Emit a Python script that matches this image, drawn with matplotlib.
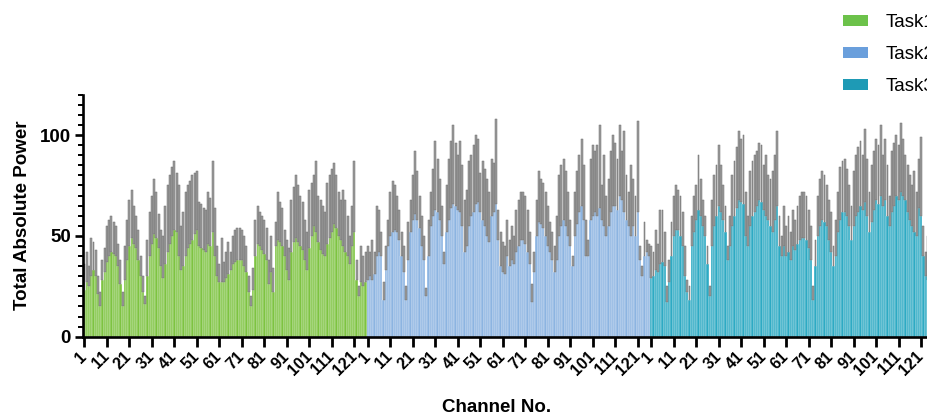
import numpy as np
import matplotlib
matplotlib.use('Agg')
import matplotlib.pyplot as plt
from matplotlib.ticker import MultipleLocator
from matplotlib.patches import Patch

plt.rcParams['font.family'] = ['Liberation Sans', 'DejaVu Sans']

#data: mean bar height and top of the error bar per channel
task_names = ['Task1', 'Task2', 'Task3']
n_channels = 126
tick_channels = [1, 11, 21, 31, 41, 51, 61, 71, 81, 91, 101, 111, 121]

task1_mean = [23, 27, 25, 30, 33, 30, 21, 15, 28, 32,
              37, 40, 42, 41, 40, 35, 26, 15, 28, 38,
              45, 49, 46, 44, 38, 30, 22, 16, 30, 40,
              46, 51, 49, 44, 35, 29, 36, 42, 46, 50,
              53, 52, 40, 33, 35, 40, 44, 46, 48, 51,
              53, 45, 44, 43, 42, 46, 45, 52, 40, 30,
              27, 27, 27, 29, 31, 33, 36, 37, 38, 38,
              38, 35, 32, 22, 15, 23, 40, 46, 45, 43,
              41, 38, 26, 32, 22, 45, 48, 47, 45, 40,
              33, 28, 42, 47, 49, 47, 45, 43, 38, 33,
              44, 50, 55, 52, 47, 43, 41, 40, 46, 49,
              52, 56, 54, 50, 48, 45, 42, 40, 36, 45,
              52, 28, 20, 27, 25, 27]
task1_top = [36, 42, 35, 49, 47, 43, 30, 22, 38, 44,
             55, 58, 60, 57, 55, 46, 38, 22, 45, 58,
             68, 73, 65, 60, 53, 40, 30, 20, 48, 62,
             70, 78, 72, 61, 53, 50, 65, 75, 80, 84,
             87, 81, 75, 55, 62, 72, 75, 77, 80, 81,
             82, 67, 66, 64, 63, 72, 69, 87, 64, 45,
             36, 49, 37, 42, 47, 42, 50, 53, 54, 54,
             53, 50, 45, 30, 20, 34, 58, 65, 62, 60,
             58, 54, 38, 50, 34, 57, 72, 67, 64, 53,
             48, 44, 68, 74, 80, 75, 70, 67, 58, 52,
             73, 76, 80, 87, 70, 68, 65, 62, 76, 80,
             83, 86, 80, 72, 68, 73, 68, 60, 50, 65,
             87, 38, 25, 45, 40, 42]

task2_mean = [28, 30, 28, 31, 40, 42, 40, 18, 33, 45,
              50, 52, 53, 52, 48, 40, 32, 18, 38, 52,
              58, 61, 58, 54, 45, 38, 20, 40, 55, 60,
              63, 62, 58, 50, 36, 52, 58, 64, 66, 65,
              63, 62, 55, 42, 45, 55, 60, 62, 66, 67,
              62, 58, 55, 50, 47, 60, 62, 66, 48, 35,
              32, 31, 40, 35, 38, 36, 42, 45, 48, 48,
              46, 42, 36, 17, 32, 50, 57, 56, 54, 50,
              45, 42, 38, 32, 38, 50, 55, 58, 55, 50,
              45, 35, 50, 56, 62, 65, 58, 40, 40, 58,
              60, 62, 60, 64, 58, 55, 50, 55, 62, 65,
              65, 63, 70, 68, 62, 58, 55, 50, 55, 50,
              62, 38, 30, 40, 42, 40]
task2_top = [45, 42, 48, 42, 65, 63, 52, 27, 45, 58,
             72, 77, 75, 70, 63, 52, 45, 25, 57, 68,
             80, 92, 82, 70, 60, 50, 24, 58, 72, 83,
             97, 88, 78, 65, 42, 75, 88, 97, 105, 96,
             90, 97, 85, 68, 73, 87, 90, 95, 100, 98,
             81, 87, 83, 78, 72, 88, 86, 108, 63, 52,
             47, 45, 58, 48, 55, 50, 63, 68, 72, 72,
             70, 63, 52, 26, 42, 68, 82, 78, 76, 72,
             65, 57, 52, 45, 60, 80, 85, 88, 82, 72,
             58, 40, 72, 82, 90, 98, 85, 58, 48, 88,
             95, 92, 95, 105, 75, 90, 70, 78, 92, 100,
             96, 88, 105, 92, 102, 80, 72, 85, 78, 70,
             107, 45, 35, 57, 48, 46]

task3_mean = [29, 30, 33, 32, 36, 37, 35, 17, 27, 40,
              50, 53, 53, 50, 45, 30, 22, 18, 45, 52,
              58, 63, 60, 55, 50, 36, 20, 45, 55, 60,
              65, 62, 58, 52, 38, 45, 55, 60, 64, 68,
              67, 66, 50, 45, 55, 60, 62, 65, 68, 67,
              63, 60, 58, 55, 52, 58, 65, 45, 40, 45,
              40, 42, 38, 45, 43, 46, 48, 49, 49, 48,
              44, 38, 18, 35, 50, 55, 58, 57, 55, 48,
              42, 35, 40, 52, 58, 62, 62, 60, 55, 48,
              55, 60, 62, 65, 63, 67, 60, 52, 57, 63,
              68, 66, 70, 65, 68, 60, 55, 62, 65, 70,
              68, 72, 70, 68, 62, 58, 55, 52, 50, 64,
              60, 40, 30, 28, 27, 25]
task3_top = [45, 42, 53, 46, 63, 63, 52, 25, 38, 57,
             70, 75, 73, 70, 62, 45, 28, 25, 60, 70,
             75, 90, 78, 68, 60, 45, 25, 68, 80, 85,
             95, 85, 75, 65, 45, 60, 80, 87, 94, 102,
             98, 100, 72, 60, 82, 87, 90, 92, 96, 95,
             85, 90, 80, 78, 82, 90, 102, 60, 50, 65,
             55, 60, 52, 63, 58, 65, 70, 72, 72, 70,
             63, 55, 25, 48, 70, 78, 82, 80, 75, 68,
             62, 45, 58, 72, 84, 87, 88, 83, 75, 65,
             82, 90, 94, 97, 90, 103, 88, 72, 85, 92,
             98, 95, 105, 90, 98, 85, 70, 92, 96, 100,
             95, 106, 98, 90, 85, 80, 75, 82, 72, 88,
             99, 55, 42, 50, 45, 40]

means = [task1_mean, task2_mean, task3_mean]
tops = [task1_top, task2_top, task3_top]
for m, t in zip(means, tops):
    if len(m) != n_channels or len(t) != n_channels:
        raise ValueError('channel count mismatch')

bar_colors = ['#7dc341', '#8cb4e1', '#2daac3']
legend_colors = ['#6cc24a', '#6a9fdc', '#1e9ab5']

fig = plt.figure(figsize=(9.28, 4.16), dpi=100)
ax = fig.add_axes([0.0898, 0.1906, 0.9162, 0.5817])

tick_pos = []
tick_lab = []
for k in range(3):
    x = np.arange(n_channels) + k * n_channels
    m = np.array(means[k], dtype=float)
    t = np.array(tops[k], dtype=float)
    ax.bar(x, m, width=1.0, color=bar_colors[k], edgecolor='white', linewidth=0.25, zorder=2)
    # error bars drawn as grey columns from mean up to mean+sd
    ax.bar(x, t - m, bottom=m, width=0.85, color='#9c9c9c', edgecolor='#6e6e6e', linewidth=0.35, zorder=2)
    for c in tick_channels:
        tick_pos.append(k * n_channels + c - 1)
        tick_lab.append(str(c))

ax.set_xlim(-0.5, 3 * n_channels - 0.5)
ax.set_ylim(0, 120)

#axis styling
for s in ['top', 'right']:
    ax.spines[s].set_visible(False)
ax.spines['left'].set_linewidth(1.9)
ax.spines['bottom'].set_linewidth(1.9)
ax.spines['left'].set_zorder(3)
ax.spines['bottom'].set_zorder(3)

ax.set_yticks([0, 50, 100])
ax.yaxis.set_minor_locator(MultipleLocator(5))
ax.tick_params(axis='y', which='major', length=6, width=1.9, pad=3)
ax.tick_params(axis='y', which='minor', length=3.5, width=1.4)
for lab in ax.get_yticklabels():
    lab.set_fontsize(13.5)
    lab.set_fontweight('bold')

ax.set_xticks(tick_pos)
ax.set_xticklabels(tick_lab, rotation=45, ha='right', va='center',
                   rotation_mode='anchor', fontsize=11.5, fontweight='bold')
ax.tick_params(axis='x', which='major', length=7.5, width=2.0, pad=5)

ax.set_ylabel('Total Absolute Power', fontsize=13.5, fontweight='bold', labelpad=6)
fig.text(497 / 928, 1 - 407 / 416, 'Channel No.', fontsize=13.5, fontweight='bold',
         ha='center', va='center')

#legend in the top right corner (partly cut off like the original)
handles = [Patch(facecolor=c, edgecolor='none') for c in legend_colors]
fig.legend(handles, task_names, loc='upper left', bbox_to_anchor=(843 / 928, 1 - 14 / 416),
           frameon=False, fontsize=13.5, handlelength=1.35, handleheight=0.55,
           handletextpad=0.9, labelspacing=0.8, borderpad=0, borderaxespad=0)

plt.savefig('out.png', dpi=100)
plt.close()
